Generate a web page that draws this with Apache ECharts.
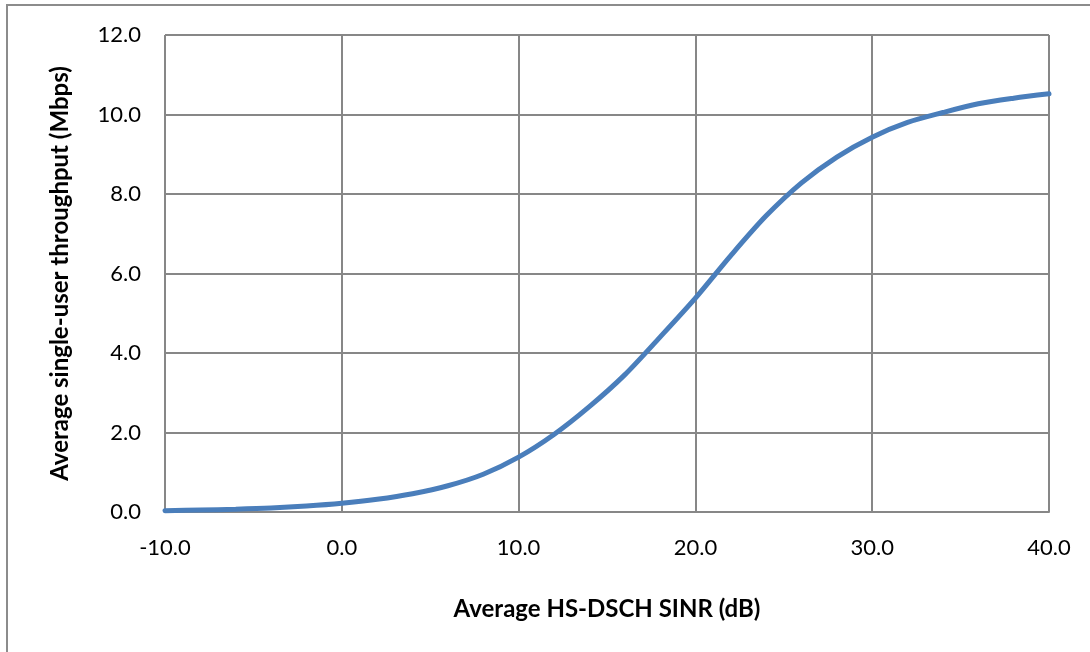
<!DOCTYPE html>
<html>
<head>
<meta charset="utf-8">
<script src="https://cdn.jsdelivr.net/npm/echarts@6/dist/echarts.min.js"></script>
<style>html,body{margin:0;padding:0;background:#fff}#c{width:1090px;height:652px}</style>
</head>
<body>
<div id="c"></div>
<script>
const sinr = [-10,-8,-6,-4,-2,0,2,4,6,8,10,12,14,16,18,20,22,24,26,28,30,32,34,36,38,40];
const throughput = [0.03,0.05,0.07,0.10,0.15,0.22,0.32,0.46,0.66,0.95,1.38,1.95,2.65,3.45,4.4,5.38,6.45,7.45,8.28,8.93,9.43,9.8,10.05,10.27,10.41,10.52];
const xTitle = 'Average HS-DSCH SINR (dB)';
const yTitle = 'Average single-user throughput (Mbps)';

const chart = echarts.init(document.getElementById('c'), null, {renderer:'canvas'});
const font = 'Lato, "Open Sans", sans-serif';
const gridColor = '#878787';
chart.setOption({
  animation:false,
  backgroundColor:'#fff',
  graphic:[{type:'rect',shape:{x:7,y:5,width:1100,height:660},style:{fill:'none',stroke:'#8c8c8c',lineWidth:2}}],
  grid:{left:165,right:41,top:35,bottom:140},
  xAxis:{type:'value',min:-10,max:40,interval:10,
    name:xTitle,nameLocation:'middle',nameGap:85,
    nameTextStyle:{fontFamily:font,fontWeight:'bold',fontSize:24,color:'#000'},
    axisLine:{show:true,lineStyle:{color:gridColor,width:2}},
    axisTick:{show:false},
    axisLabel:{margin:25,fontFamily:font,fontSize:22,color:'#000',formatter:v=>v.toFixed(1)},
    splitLine:{show:true,lineStyle:{color:gridColor,width:2}}},
  yAxis:{type:'value',min:0,max:12,interval:2,
    name:yTitle,nameLocation:'middle',nameGap:93,nameRotate:90,
    nameTextStyle:{fontFamily:font,fontWeight:'bold',fontSize:24,color:'#000'},
    axisLine:{show:true,lineStyle:{color:gridColor,width:2}},
    axisTick:{show:false},
    axisLabel:{margin:24,fontFamily:font,fontSize:22,color:'#000',formatter:v=>v.toFixed(1)},
    splitLine:{show:true,lineStyle:{color:gridColor,width:2}}},
  series:[{type:'line',data:sinr.map((x,i)=>[x,throughput[i]]),smooth:0.3,showSymbol:false,
    lineStyle:{color:'#4a7ebb',width:5,cap:'round'}}]
});
</script>
</body>
</html>
